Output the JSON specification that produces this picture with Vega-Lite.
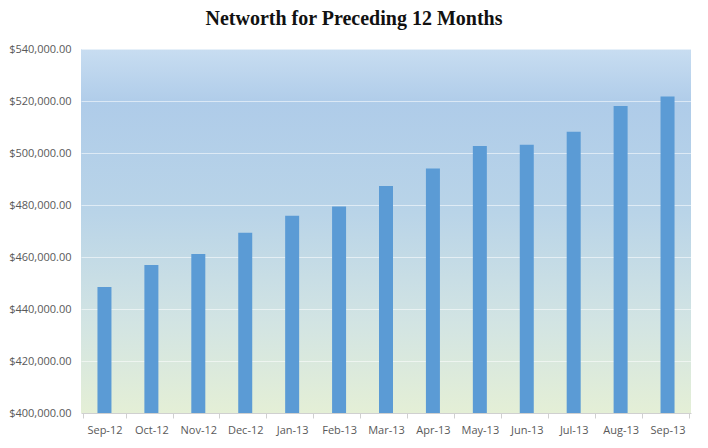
{
  "$schema": "https://vega.github.io/schema/vega-lite/v6.json",
  "width": 610,
  "height": 364,
  "autosize": "none",
  "padding": {"left": 81, "top": 49, "right": 17, "bottom": 35},
  "background": "white",
  "title": {
    "text": "Networth for Preceding 12 Months",
    "font": "Liberation Serif",
    "fontSize": 20,
    "fontWeight": "bold",
    "color": "#111111",
    "anchor": "middle",
    "dx": -32,
    "offset": 14
  },
  "data": {
    "values": [
      {"month": "Sep-12", "networth": 448500},
      {"month": "Oct-12", "networth": 456900},
      {"month": "Nov-12", "networth": 461200},
      {"month": "Dec-12", "networth": 469300},
      {"month": "Jan-13", "networth": 475900},
      {"month": "Feb-13", "networth": 479400},
      {"month": "Mar-13", "networth": 487300},
      {"month": "Apr-13", "networth": 494000},
      {"month": "May-13", "networth": 502700},
      {"month": "Jun-13", "networth": 503200},
      {"month": "Jul-13", "networth": 508200},
      {"month": "Aug-13", "networth": 518100},
      {"month": "Sep-13", "networth": 521700}
    ]
  },
  "mark": {"type": "bar", "color": "#5b9bd5", "size": 14, "clip": true},
  "encoding": {
    "x": {
      "field": "month",
      "type": "nominal",
      "sort": null,
      "title": null,
      "axis": {
        "labelAngle": 0,
        "labelFont": "Open Sans",
        "labelFontSize": 11,
        "labelColor": "#595959",
        "labelPadding": 6,
        "domainColor": "#d0d0d0",
        "tickColor": "#d0d0d0",
        "tickBand": "extent",
        "tickSize": 5
      }
    },
    "y": {
      "field": "networth",
      "type": "quantitative",
      "title": null,
      "scale": {"domain": [400000, 540000], "nice": false},
      "axis": {
        "values": [400000, 420000, 440000, 460000, 480000, 500000, 520000, 540000],
        "format": "$,.2f",
        "labelFont": "Open Sans",
        "labelFontSize": 11,
        "labelColor": "#595959",
        "labelPadding": 10,
        "ticks": false,
        "domain": false,
        "gridColor": "#ffffff",
        "gridOpacity": 0.55
      }
    }
  },
  "config": {
    "view": {
      "stroke": null,
      "fill": {
        "gradient": "linear",
        "x1": 0, "y1": 0, "x2": 0, "y2": 1,
        "stops": [
          {"offset": 0, "color": "#c8ddf1"},
          {"offset": 0.15, "color": "#afcce9"},
          {"offset": 0.45, "color": "#b9d4e8"},
          {"offset": 0.75, "color": "#d2e4e3"},
          {"offset": 1, "color": "#e4efd6"}
        ]
      }
    }
  }
}
